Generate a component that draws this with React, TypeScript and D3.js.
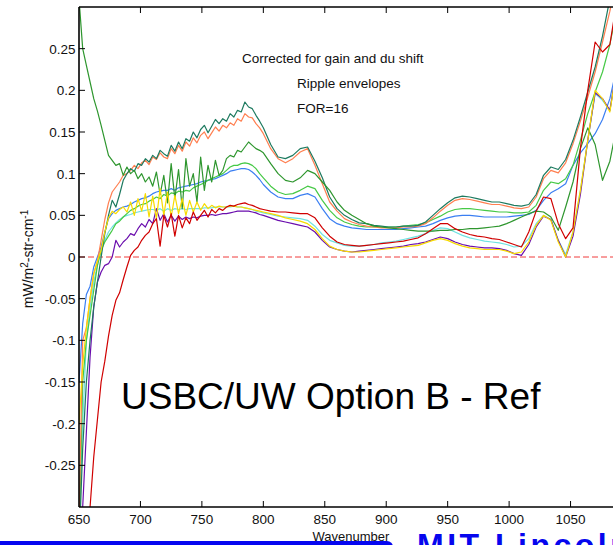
import React from 'react';
import * as d3 from 'd3';

// Wavenumber grid (cm^-1) shared by every spectrum
const wavenumbers = [
  650, 653, 656, 659, 662, 665, 668, 671, 674, 677,
  680, 683, 686, 689, 692, 695, 698, 701, 704, 707,
  710, 713, 716, 719, 722, 725, 728, 731, 734, 737,
  740, 743, 746, 749, 752, 755, 758, 761, 764, 767,
  770, 773, 776, 779, 782, 785, 788, 791, 794, 797,
  800, 806, 812, 818, 824, 830, 836, 842, 848, 854,
  860, 866, 872, 878, 884, 890, 896, 902, 908, 914,
  920, 926, 932, 938, 944, 950, 956, 962, 968, 974,
  980, 986, 992, 998, 1004, 1010, 1016, 1022, 1028, 1034,
  1040, 1046, 1052, 1058, 1064, 1070, 1076, 1082, 1088, 1094, 1100,
];

// Ripple envelope spectra, mW/m^2-str-cm^-1
const tealValues = [
  -0.35, -0.23, -0.15, -0.1, -0.06, -0.03, 0.0, 0.028, 0.05, 0.068,
  0.06, 0.075, 0.092, 0.1, 0.106, 0.103, 0.112, 0.11, 0.118, 0.114,
  0.122, 0.118, 0.128, 0.124, 0.121, 0.134, 0.127, 0.138, 0.13, 0.142,
  0.139, 0.15, 0.143, 0.153, 0.158, 0.149, 0.157, 0.165, 0.16, 0.166,
  0.163, 0.172, 0.168, 0.176, 0.174, 0.186, 0.18, 0.178, 0.17, 0.163,
  0.155, 0.135, 0.12, 0.118, 0.122, 0.13, 0.132, 0.115, 0.095, 0.072,
  0.058, 0.05, 0.045, 0.041, 0.04, 0.038, 0.037, 0.036, 0.036, 0.037,
  0.037, 0.038, 0.042, 0.05, 0.058, 0.065, 0.071, 0.073, 0.072, 0.07,
  0.068, 0.066, 0.066, 0.064, 0.062, 0.061, 0.063, 0.075, 0.098, 0.108,
  0.105, 0.117, 0.14, 0.168, 0.198, 0.228, 0.265, 0.31, 0.36, 0.41, 0.46,
];

const coralValues = [
  -0.32, -0.1, -0.085, -0.05, -0.02, -0.005, 0.02, 0.045, 0.065, 0.078,
  0.084, 0.09, 0.098, 0.1, 0.104, 0.11, 0.106, 0.113, 0.116, 0.111,
  0.12, 0.117, 0.125, 0.12, 0.118, 0.13, 0.124, 0.134, 0.127, 0.138,
  0.133, 0.143, 0.137, 0.146, 0.15, 0.142, 0.149, 0.156, 0.151, 0.158,
  0.155, 0.161, 0.158, 0.166, 0.163, 0.172, 0.168, 0.167, 0.16, 0.155,
  0.148, 0.13, 0.118, 0.113, 0.118, 0.126, 0.13, 0.11, 0.088, 0.066,
  0.055, 0.046, 0.042, 0.039, 0.037, 0.036, 0.035, 0.035, 0.035, 0.036,
  0.036, 0.037, 0.04, 0.047, 0.055, 0.062, 0.068, 0.07, 0.069, 0.067,
  0.065, 0.063, 0.063, 0.061, 0.059, 0.058, 0.06, 0.072, 0.094, 0.104,
  0.101, 0.113, 0.136, 0.163, 0.192, 0.222, 0.258, 0.295, 0.34, 0.39, 0.44,
];

const forestValues = [
  0.31, 0.25, 0.23, 0.21, 0.19, 0.175, 0.158, 0.14, 0.122, 0.116,
  0.11, 0.112, 0.098, 0.108, 0.1, 0.104, 0.094, 0.1, 0.09, 0.096,
  0.085, 0.102, 0.075, 0.098, 0.065, 0.112, 0.07, 0.105, 0.058, 0.118,
  0.085, 0.1, 0.066, 0.12, 0.08, 0.11, 0.09, 0.116, 0.098, 0.104,
  0.118, 0.122, 0.12, 0.128, 0.126, 0.132, 0.138, 0.134, 0.13, 0.128,
  0.125, 0.112, 0.1, 0.092, 0.09, 0.095, 0.104, 0.1, 0.09, 0.08,
  0.066, 0.056, 0.05, 0.045, 0.04, 0.037, 0.036, 0.035, 0.034, 0.033,
  0.032, 0.031, 0.031, 0.031, 0.032, 0.032, 0.033, 0.033, 0.034, 0.034,
  0.035, 0.036, 0.037, 0.04, 0.044, 0.048, 0.052, 0.055, 0.054, 0.048,
  0.032, 0.06, 0.09, 0.13, 0.155, 0.135, 0.092, 0.115, 0.16, 0.21, 0.26,
];

const limeValues = [
  -0.35, -0.15, -0.1, -0.07, -0.04, -0.01, 0.008, 0.018, 0.025, 0.032,
  0.04, 0.043, 0.048, 0.052, 0.056, 0.058, 0.061, 0.063, 0.064, 0.067,
  0.069, 0.072, 0.07, 0.075, 0.073, 0.077, 0.076, 0.079, 0.078, 0.08,
  0.079, 0.083, 0.085, 0.087, 0.089, 0.092, 0.094, 0.096, 0.098, 0.1,
  0.104, 0.108, 0.11, 0.11, 0.112, 0.113, 0.112, 0.11, 0.106, 0.1,
  0.095, 0.085, 0.078, 0.075, 0.076, 0.08, 0.085, 0.082, 0.068, 0.056,
  0.047, 0.042, 0.039, 0.037, 0.036, 0.036, 0.036, 0.036, 0.036, 0.037,
  0.038, 0.039, 0.041, 0.045, 0.049, 0.054, 0.057, 0.058, 0.058, 0.057,
  0.056, 0.055, 0.054, 0.054, 0.053, 0.053, 0.054, 0.062, 0.08, 0.09,
  0.088, 0.094, 0.11, 0.14, 0.172, 0.198, 0.222, 0.255, 0.3, 0.34, 0.38,
];

const blueValues = [
  -0.15, -0.08, -0.045, -0.035, -0.012, 0.0, 0.012, 0.03, 0.046, 0.052,
  0.056, 0.058, 0.06, 0.061, 0.063, 0.066, 0.068, 0.07, 0.071, 0.073,
  0.076, 0.078, 0.079, 0.08, 0.08, 0.082, 0.08, 0.083, 0.084, 0.085,
  0.086, 0.087, 0.088, 0.09, 0.091, 0.092, 0.093, 0.094, 0.096, 0.098,
  0.1, 0.103, 0.104, 0.105, 0.106, 0.106, 0.105, 0.102, 0.098, 0.093,
  0.087, 0.078, 0.072, 0.07, 0.07, 0.074, 0.076, 0.072, 0.058, 0.046,
  0.04, 0.037, 0.035, 0.034, 0.033, 0.033, 0.033, 0.033, 0.033, 0.034,
  0.035, 0.036, 0.037, 0.04, 0.044, 0.047, 0.049, 0.05, 0.05, 0.049,
  0.048, 0.048, 0.048, 0.048, 0.049, 0.05, 0.051, 0.056, 0.068, 0.077,
  0.082, 0.088, 0.11, 0.125, 0.136, 0.148, 0.165, 0.19, 0.23, 0.27, 0.31,
];

const redValues = [
  -0.6, -0.5, -0.4, -0.3, -0.24, -0.195, -0.15, -0.125, -0.095, -0.07,
  -0.052, -0.043, -0.027, -0.012, 0.002, 0.008, 0.012, 0.02, 0.026, 0.03,
  0.04, 0.046, 0.013, 0.05, 0.036, 0.052, 0.025, 0.05, 0.035, 0.047,
  0.04, 0.054, 0.044, 0.05, 0.056, 0.048, 0.057, 0.053, 0.058, 0.056,
  0.06, 0.062, 0.061, 0.063, 0.064, 0.065, 0.063, 0.062, 0.06, 0.058,
  0.057, 0.055, 0.054, 0.054, 0.053, 0.052, 0.052, 0.047, 0.035, 0.025,
  0.018, 0.015, 0.014, 0.013, 0.014, 0.015, 0.016, 0.017, 0.018, 0.019,
  0.021, 0.023, 0.028, 0.034, 0.04, 0.04, 0.034, 0.03, 0.027, 0.025,
  0.024, 0.022, 0.021, 0.018, 0.015, 0.012, 0.03, 0.055, 0.072, 0.07,
  0.04, 0.022, 0.035, 0.13, 0.2, 0.258, 0.246, 0.255, 0.31, 0.36, 0.41,
];

const yellowValues = [
  -0.2, -0.13, -0.085, -0.05, -0.02, -0.005, 0.008, 0.03, 0.047, 0.055,
  0.052, 0.057, 0.06, 0.054, 0.066, 0.05, 0.07, 0.055, 0.076, 0.048,
  0.073, 0.046, 0.082, 0.05, 0.078, 0.048, 0.074, 0.052, 0.07, 0.05,
  0.068, 0.054, 0.066, 0.056, 0.064, 0.058, 0.062, 0.059, 0.061, 0.06,
  0.06, 0.061, 0.061, 0.06, 0.06, 0.059, 0.058, 0.057, 0.056, 0.055,
  0.054, 0.052, 0.05, 0.047, 0.045, 0.043, 0.04, 0.033, 0.022, 0.013,
  0.009, 0.007, 0.006, 0.006, 0.007, 0.008, 0.009, 0.01, 0.011, 0.012,
  0.013, 0.014, 0.017, 0.02, 0.022, 0.02, 0.016, 0.013, 0.011, 0.01,
  0.009, 0.009, 0.009, 0.007, 0.004, 0.006, 0.018, 0.038, 0.05, 0.044,
  0.018, 0.0, 0.03, 0.08, 0.14, 0.2, 0.19, 0.174, 0.23, 0.28, 0.33,
];

const cyanValues = [
  -0.33, -0.2, -0.1, -0.06, -0.03, -0.01, 0.008, 0.02, 0.03, 0.036,
  0.041, 0.045, 0.048, 0.05, 0.051, 0.053, 0.054, 0.055, 0.056, 0.057,
  0.057, 0.056, 0.058, 0.055, 0.058, 0.056, 0.058, 0.057, 0.058, 0.057,
  0.058, 0.058, 0.058, 0.058, 0.059, 0.059, 0.059, 0.06, 0.06, 0.06,
  0.06, 0.06, 0.061, 0.06, 0.06, 0.059, 0.058, 0.057, 0.055, 0.054,
  0.053, 0.051, 0.049, 0.048, 0.047, 0.046, 0.044, 0.037, 0.027, 0.02,
  0.017, 0.014, 0.013, 0.013, 0.014, 0.015, 0.017, 0.018, 0.019, 0.021,
  0.023, 0.025, 0.028, 0.032, 0.035, 0.034, 0.03, 0.026, 0.023, 0.021,
  0.019, 0.018, 0.017, 0.015, 0.012, 0.013, 0.022, 0.04, 0.05, 0.045,
  0.02, 0.003, 0.03, 0.08, 0.14, 0.196, 0.188, 0.176, 0.23, 0.28, 0.33,
];

const purpleValues = [
  -0.5, -0.3, -0.21, -0.12, -0.06, -0.03, -0.018, -0.01, -0.008, 0.0,
  0.02, 0.012, 0.018, 0.022, 0.028, 0.026, 0.034, 0.04, 0.036, 0.045,
  0.04, 0.058, 0.044, 0.052, 0.042, 0.05, 0.043, 0.049, 0.045, 0.048,
  0.046, 0.048, 0.047, 0.049, 0.05, 0.05, 0.051, 0.05, 0.051, 0.052,
  0.052, 0.053, 0.054, 0.055, 0.055, 0.055, 0.055, 0.054, 0.053, 0.051,
  0.05, 0.047, 0.044, 0.042, 0.04, 0.038, 0.036, 0.03, 0.02, 0.012,
  0.009, 0.007, 0.006, 0.007, 0.008, 0.009, 0.01, 0.011, 0.012, 0.013,
  0.015, 0.016, 0.018, 0.021, 0.024, 0.022, 0.018, 0.015, 0.013, 0.012,
  0.011, 0.011, 0.01, 0.008, 0.004, 0.002, 0.015, 0.036, 0.049, 0.045,
  0.02, 0.0, 0.025, 0.075, 0.14, 0.197, 0.19, 0.176, 0.23, 0.28, 0.33,
];

// Drawing order (later = on top)
const seriesNames = ['cyan', 'blue', 'lime', 'purple', 'coral', 'teal', 'forest', 'yellow', 'red'];
const seriesColors = ['#6fe2e2', '#3b7ff2', '#46c946', '#6a0dad', '#ff7f50', '#1d7a5f', '#2e962e', '#f7db00', '#d00000'];
const seriesValues = [cyanValues, blueValues, limeValues, purpleValues, coralValues, tealValues, forestValues, yellowValues, redValues];

const xTicks = [650, 700, 750, 800, 850, 900, 950, 1000, 1050];
const yTicks = [-0.25, -0.2, -0.15, -0.1, -0.05, 0, 0.05, 0.1, 0.15, 0.2, 0.25];

const FONT = "Arial, 'Liberation Sans', sans-serif";

export default function App() {
  const W = 613;
  const H = 545;
  const left = 79;
  const top = 7;
  const bottom = 507;
  const rightEdge = 632;

  const x = d3.scaleLinear().domain([650, 1100]).range([left, rightEdge]);
  const y = d3.scaleLinear().domain([-0.3, 0.3]).range([bottom, top]);

  const line = d3
    .line<number>()
    .x((_, i) => x(wavenumbers[i]))
    .y((d) => y(d));

  const fmt = (v: number) => String(+v.toFixed(2));

  return (
    <svg
      width={W}
      height={H}
      style={{ position: 'absolute', left: 0, top: 0, display: 'block', background: '#fff' }}
      fontFamily={FONT}
    >
      <defs>
        <clipPath id="plot-clip">
          <rect x={left} y={top} width={rightEdge - left} height={bottom - top} />
        </clipPath>
      </defs>

      <g clipPath="url(#plot-clip)">
        <line
          x1={left}
          x2={rightEdge}
          y1={y(0)}
          y2={y(0)}
          stroke="#f03c3c"
          strokeWidth={1}
          strokeDasharray="6,3"
        />
        {seriesValues.map((vals, k) => (
          <path
            key={seriesNames[k]}
            d={line(vals) || ''}
            fill="none"
            stroke={seriesColors[k]}
            strokeWidth={1.2}
            strokeLinejoin="round"
          />
        ))}
      </g>

      {/* frame */}
      <line x1={left} x2={left} y1={top} y2={bottom} stroke="#000" strokeWidth={1.6} />
      <line x1={left} x2={W} y1={top} y2={top} stroke="#000" strokeWidth={1.6} />
      <line x1={left} x2={W} y1={bottom} y2={bottom} stroke="#000" strokeWidth={1.6} />

      {/* x ticks, top and bottom, pointing inward */}
      {xTicks.map((t) => (
        <g key={'xt' + t}>
          {t !== 650 && (
            <>
              <line x1={x(t)} x2={x(t)} y1={bottom} y2={bottom - 6} stroke="#000" strokeWidth={1} />
              <line x1={x(t)} x2={x(t)} y1={top} y2={top + 6} stroke="#000" strokeWidth={1} />
            </>
          )}
          <text x={x(t)} y={524} textAnchor="middle" fontSize={13.5} fill="#111">
            {t}
          </text>
        </g>
      ))}

      {/* y ticks */}
      {yTicks.map((t) => (
        <g key={'yt' + t}>
          <line x1={left} x2={left + 6} y1={y(t)} y2={y(t)} stroke="#000" strokeWidth={1} />
          <text x={75.5} y={y(t) + 5} textAnchor="end" fontSize={13.5} fill="#111">
            {fmt(t)}
          </text>
        </g>
      ))}

      {/* y axis title */}
      <text transform="translate(33,259) rotate(-90)" textAnchor="middle" fontSize={14} fill="#111">
        mW/m
        <tspan dy={-5} fontSize={10}>2</tspan>
        <tspan dy={5}>-str-cm</tspan>
        <tspan dy={-5} fontSize={10}>-1</tspan>
      </text>

      {/* annotations */}
      <text x={242} y={63} fontSize={13.5} fill="#111">Corrected for gain and du shift</text>
      <text x={297} y={87.5} fontSize={13.5} fill="#111">Ripple envelopes</text>
      <text x={297} y={112.5} fontSize={13.5} fill="#111">FOR=16</text>
      <text x={121} y={409} fontSize={37} fill="#000">USBC/UW Option B - Ref</text>

      {/* footer band */}
      <rect x={-10} y={541} width={403} height={20} rx={6} fill="#0606f0" />
      <text x={351} y={541} textAnchor="middle" fontSize={13} fill="#111">Wavenumber</text>
      <text x={417} y={556} fontSize={32} fontWeight="bold" letterSpacing={3.5} fill="#0606ee">
        MIT Lincoln
      </text>
    </svg>
  );
}
